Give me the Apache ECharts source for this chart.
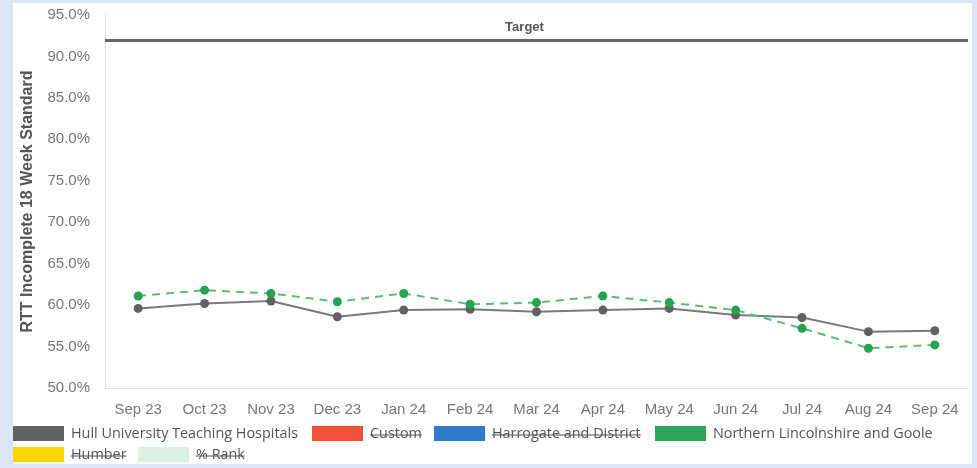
<!DOCTYPE html>
<html>
<head>
<meta charset="utf-8">
<script src="https://cdn.jsdelivr.net/npm/echarts@6/dist/echarts.min.js"></script>
<style>
  html, body { margin: 0; padding: 0; background: #dce5f5; }
  #panel { position: absolute; left: 13px; top: 3px; width: 959px; height: 461px; background: #ffffff; }
  #chart { position: absolute; left: 0; top: 0; width: 977px; height: 468px; }
</style>
</head>
<body>
<div id="panel"></div>
<div id="chart"></div>
<script>
// Months on the x axis
const categories = ['Sep 23', 'Oct 23', 'Nov 23', 'Dec 23', 'Jan 24', 'Feb 24', 'Mar 24',
                    'Apr 24', 'May 24', 'Jun 24', 'Jul 24', 'Aug 24', 'Sep 24'];

// RTT incomplete pathways within 18 weeks (%)
const hullValues = [59.6, 60.2, 60.5, 58.6, 59.4, 59.5, 59.2, 59.4, 59.6, 58.8, 58.5, 56.8, 56.9];
const northLincsValues = [61.1, 61.8, 61.4, 60.4, 61.4, 60.1, 60.3, 61.1, 60.3, 59.4, 57.2, 54.8, 55.2];

// Operational standard
const targetValue = 92;

// Legend entries: [name, hidden]
const legendNames = ['Hull University Teaching Hospitals', 'Custom', 'Harrogate and District',
                     'Northern Lincolnshire and Goole', 'Humber', '% Rank'];
const legendHidden = [false, true, true, false, true, true];

const palette = ['#616161', '#f0503a', '#2f7bc7', '#2ea55a', '#fbd500', '#dcefe3'];
const legendPos = [[13, 426], [312, 426], [434, 426], [655, 426], [13, 447], [138, 447]];

const legendFont = '14.4px "Open Sans"';
const measureCtx = document.createElement('canvas').getContext('2d');
measureCtx.font = legendFont;

const legendGraphics = [];
legendNames.forEach(function (name, i) {
  const x = legendPos[i][0], y = legendPos[i][1];
  legendGraphics.push({
    type: 'rect', left: x, top: y, silent: true,
    shape: { width: 51, height: 15 },
    style: { fill: palette[i] }
  });
  legendGraphics.push({
    type: 'text', x: x + 58, y: y + 8, silent: true,
    style: { text: name, font: legendFont, fill: '#555555', textVerticalAlign: 'middle' }
  });
  if (legendHidden[i]) {
    const w = measureCtx.measureText(name).width;
    legendGraphics.push({
      type: 'line', silent: true,
      shape: { x1: x + 58, y1: y + 9, x2: x + 58 + w, y2: y + 9 },
      style: { stroke: '#555555', lineWidth: 1 }
    });
  }
});

const chart = echarts.init(document.getElementById('chart'), null, { renderer: 'canvas' });

chart.setOption({
  backgroundColor: 'transparent',
  animation: false,
  grid: { left: 105, right: 9, top: 15, bottom: 80, containLabel: false },
  xAxis: {
    type: 'category',
    data: categories,
    boundaryGap: true,
    axisLine: { lineStyle: { color: '#e0e0e0', width: 1 } },
    axisTick: { show: false },
    axisLabel: { color: '#777777', fontSize: 15, fontFamily: 'Liberation Sans, Arial', margin: 14 }
  },
  yAxis: {
    type: 'value',
    min: 50, max: 95, interval: 5,
    name: 'RTT Incomplete 18 Week Standard',
    nameLocation: 'middle',
    nameGap: 69,
    nameTextStyle: { color: '#555555', fontSize: 16, fontWeight: 'bold', fontFamily: 'Liberation Sans, Arial' },
    axisLine: { show: true, lineStyle: { color: '#e0e0e0', width: 1 } },
    axisTick: { show: false },
    splitLine: { show: false },
    axisLabel: {
      color: '#777777', fontSize: 15, fontFamily: 'Liberation Sans, Arial', margin: 15,
      formatter: function (v) { return v.toFixed(1) + '%'; }
    }
  },
  graphic: legendGraphics,
  series: [
    {
      name: legendNames[0],
      type: 'line',
      data: hullValues,
      symbol: 'circle',
      symbolSize: 9,
      itemStyle: { color: '#616161' },
      lineStyle: { color: '#7a7a7a', width: 2 },
      z: 3,
      markLine: {
        silent: true,
        symbol: 'none',
        data: [{ yAxis: targetValue }],
        lineStyle: { color: '#666666', width: 3, type: 'solid' },
        label: {
          show: true, position: 'insideMiddleTop', formatter: 'Target',
          color: '#555555', fontSize: 13, fontWeight: 'bold', fontFamily: 'Liberation Sans, Arial',
          distance: 6, offset: [-12, 0]
        }
      }
    },
    {
      name: legendNames[3],
      type: 'line',
      data: northLincsValues,
      symbol: 'circle',
      symbolSize: 9,
      itemStyle: { color: '#24a450' },
      lineStyle: { color: '#5cbd7a', width: 2, type: [8, 6] },
      z: 4
    }
  ]
});
</script>
</body>
</html>
